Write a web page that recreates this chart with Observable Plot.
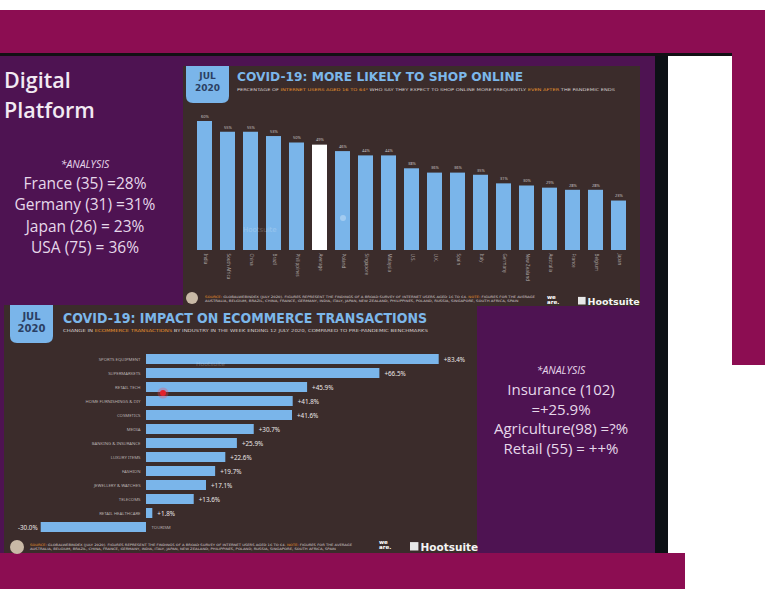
<!DOCTYPE html>
<html><head><meta charset="utf-8">
<script src="https://cdn.jsdelivr.net/npm/d3@7"></script>
<script src="https://cdn.jsdelivr.net/npm/@observablehq/plot@0.6"></script>
<style>
body{margin:0;background:#fff;}
#slide{position:relative;width:765px;height:589px;overflow:hidden;background:#fff;font-family:"Open Sans","Noto Sans",sans-serif;}
.blk{position:absolute;}
.plot{position:absolute;}
.plot svg{display:block;}
#overlay{position:absolute;left:0;top:0;pointer-events:none;}
</style></head><body><div id="slide"></div>
<script>
// ---------- data ----------
const countries = ["India","South Africa","China","Brazil","Philippines","Average","Poland","Singapore","Malaysia","U.S.","U.K.","Spain","Italy","Germany","New Zealand","Australia","France","Belgium","Japan"];
const shopOnline = [60,55,55,53,50,49,46,44,44,38,36,36,35,31,30,29,28,28,23];
const industries = ["SPORTS EQUIPMENT","SUPERMARKETS","RETAIL TECH","HOME FURNISHINGS & DIY","COSMETICS","MEDIA","BANKING & INSURANCE","LUXURY ITEMS","FASHION","JEWELLERY & WATCHES","TELECOMS","RETAIL HEALTHCARE","TOURISM"];
const ecomChange = [83.4,66.5,45.9,41.8,41.6,30.7,25.9,22.6,19.7,17.1,13.6,1.8,-30.0];
const leftAnalysis = ["France (35) =28%","Germany (31) =31%","Japan (26) = 23%","USA (75) = 36%"];
const rightAnalysis = ["Insurance (102)","=+25.9%","Agriculture(98) =?%","Retail (55) = ++%"];

const slide = document.getElementById("slide");
function block(l,t,w,h,c){const d=document.createElement("div");d.className="blk";Object.assign(d.style,{left:l+"px",top:t+"px",width:w+"px",height:h+"px",background:c});slide.appendChild(d);}
// slide frame
block(0,10,765,43,"#8c0d52");
block(732,10,33,355,"#8c0d52");
block(0,53,732,3,"#121014");
block(0,56,655,497,"#4e1352");
block(655,56,13,497,"#0c1015");
block(0,553,685,36,"#8c0d52");

const BLUE = "#7ab5ea", BG = "#3b2c2b";

// ---------- top chart ----------
const shopData = countries.map((c,i)=>({country:c, value:shopOnline[i]}));
const topChart = Plot.plot({
  width:457, height:240, marginLeft:3.2, marginRight:2.7, marginTop:55, marginBottom:56,
  x:{domain:countries, padding:0.335, label:null},
  y:{domain:[0,60], axis:null},
  style:{background:BG, fontFamily:"Noto Sans, sans-serif"},
  marks:[
    Plot.barY(shopData.filter(d=>d.country!=="Average"),{x:"country",y:"value",fill:BLUE}),
    Plot.barY(shopData.filter(d=>d.country==="Average"),{x:"country",y:"value",fill:"#ffffff"}),
    Plot.text(shopData,{x:"country",y:"value",text:d=>d.value+"%",dy:-5,fontSize:4,fill:"#c9c1c1"}),
    Plot.axisX({tickRotate:90,tickSize:0,tickPadding:3,fontSize:4.5,fill:"#aaa2a2",label:null})
  ]
});
const topDiv = document.createElement("div"); topDiv.className="plot";
Object.assign(topDiv.style,{left:"183px",top:"66px"}); topDiv.appendChild(topChart); slide.appendChild(topDiv);

// ---------- bottom chart ----------
const ecomData = industries.map((d,i)=>({industry:d, value:ecomChange[i]}));
const fmt = v => (v>0?"+":"") + v.toFixed(1) + "%";
const bottomChart = Plot.plot({
  width:473, height:248, marginLeft:36.7, marginRight:38.3, marginTop:44.1, marginBottom:17.4,
  x:{domain:[-30,83.4], axis:null},
  y:{domain:industries, axis:null, padding:0.32},
  style:{background:BG, fontFamily:"Noto Sans, sans-serif"},
  marks:[
    Plot.barX(ecomData,{x1:0,x2:"value",y:"industry",fill:BLUE}),
    Plot.text(ecomData.filter(d=>d.value>=0),{x:0,y:"industry",text:"industry",textAnchor:"end",dx:-6,fontSize:4.3,fill:"#b8b0b0"}),
    Plot.text(ecomData.filter(d=>d.value<0),{x:0,y:"industry",text:"industry",textAnchor:"start",dx:5,fontSize:4.3,fill:"#b8b0b0"}),
    Plot.text(ecomData.filter(d=>d.value>=0),{x:"value",y:"industry",text:d=>fmt(d.value),textAnchor:"start",dx:4.5,fontSize:6.3,fill:"#ece8e8"}),
    Plot.text(ecomData.filter(d=>d.value<0),{x:"value",y:"industry",text:d=>fmt(d.value),textAnchor:"end",dx:-3.5,fontSize:6.3,fill:"#ece8e8"})
  ]
});
const botDiv = document.createElement("div"); botDiv.className="plot";
Object.assign(botDiv.style,{left:"4px",top:"305px"}); botDiv.appendChild(bottomChart); slide.appendChild(botDiv);

// ---------- overlay decorations & text ----------
const svg = d3.select(slide).append("svg").attr("id","overlay").attr("width",765).attr("height",589);
function badge(x0,y0,x1,y1,r,jy,ty,fs){
  svg.append("path").attr("fill",BLUE)
    .attr("d",`M${x0},${y0}H${x1}V${y1-r}Q${x1},${y1} ${x1-r},${y1}H${x0+r}Q${x0},${y1} ${x0},${y1-r}Z`);
  const cx=(x0+x1)/2;
  [["JUL",jy],["2020",ty]].forEach(([t,y])=>svg.append("text").attr("x",cx).attr("y",y).attr("text-anchor","middle")
    .attr("font-family","DejaVu Sans").attr("font-weight","bold").attr("font-size",fs).attr("fill","#2b3f63").text(t));
}
badge(186,66,229,103,7,78.5,90.5,9);
badge(10,305,53,343,7,319.5,332,10);

function title(x,y,len,fs,t){
  svg.append("text").attr("x",x).attr("y",y).attr("font-family","DejaVu Sans").attr("font-weight","bold")
    .attr("font-size",fs).attr("fill","#7cb7ea").attr("textLength",len).attr("lengthAdjust","spacingAndGlyphs").text(t);
}
title(237,80.7,286,12.3,"COVID-19: MORE LIKELY TO SHOP ONLINE");
title(63,323.3,364,13.6,"COVID-19: IMPACT ON ECOMMERCE TRANSACTIONS");

function sub(x,y,len,fs,parts){
  const t=svg.append("text").attr("x",x).attr("y",y).attr("font-family","DejaVu Sans").attr("font-size",fs)
    .attr("textLength",len).attr("lengthAdjust","spacingAndGlyphs");
  parts.forEach(([s,c])=>t.append("tspan").attr("fill",c).text(s));
}
const W="#d8d0d0", O="#e8952e";
sub(237,90.5,378,3.8,[["PERCENTAGE OF ",W],["INTERNET USERS AGED 16 TO 64*",O],[" WHO SAY THEY EXPECT TO SHOP ONLINE MORE FREQUENTLY ",W],["EVEN AFTER",O],[" THE PANDEMIC ENDS",W]]);
sub(63,331.5,365,4.2,[["CHANGE IN ",W],["ECOMMERCE TRANSACTIONS",O],[" BY INDUSTRY IN THE WEEK ENDING 12 JULY 2020, COMPARED TO PRE-PANDEMIC BENCHMARKS",W]]);

// footers
function footer(cx,cy,r,tx,ty,len,wx,wy,hx,hy,hfs){
  svg.append("circle").attr("cx",cx).attr("cy",cy).attr("r",r).attr("fill","#c9b9a6");
  sub(tx,ty,len,3.2,[["SOURCE: ",O],["GLOBALWEBINDEX (JULY 2020). FIGURES REPRESENT THE FINDINGS OF A BROAD SURVEY OF INTERNET USERS AGED 16 TO 64. ",W],["NOTE: ",O],["FIGURES FOR THE AVERAGE",W]]);
  sub(tx,ty+4.5,len*0.95,3.2,[["AUSTRALIA, BELGIUM, BRAZIL, CHINA, FRANCE, GERMANY, INDIA, ITALY, JAPAN, NEW ZEALAND, PHILIPPINES, POLAND, RUSSIA, SINGAPORE, SOUTH AFRICA, SPAIN",W]]);
  svg.append("text").attr("x",wx).attr("y",wy).attr("font-family","DejaVu Sans").attr("font-weight","bold").attr("font-size",5.5).attr("fill","#fff").text("we");
  svg.append("text").attr("x",wx).attr("y",wy+5).attr("font-family","DejaVu Sans").attr("font-weight","bold").attr("font-size",5.5).attr("fill","#fff").text("are.");
  svg.append("rect").attr("x",hx).attr("y",hy-hfs*0.8).attr("width",hfs*0.8).attr("height",hfs*0.8).attr("fill","#e8e8e8");
  svg.append("text").attr("x",hx+hfs).attr("y",hy).attr("font-family","DejaVu Sans").attr("font-weight","bold").attr("font-size",hfs).attr("fill","#f4f4f4").text("Hootsuite");
}
footer(192,298,6,205,297.5,330,547,299,578,304.5,9.5);
footer(17,547,7,30,545.5,322,379,544,410,550.5,10.5);

// faint watermarks
function wm(x,y,fs){svg.append("text").attr("x",x).attr("y",y).attr("font-family","DejaVu Sans").attr("font-size",fs).attr("fill","#ffffff").attr("opacity",0.22).text("Hootsuite");}
wm(243,232,7); wm(196,366,6);
svg.append("circle").attr("cx",343).attr("cy",218).attr("r",3).attr("fill","#fff").attr("opacity",0.3);

// red cursor dot
svg.append("circle").attr("cx",163).attr("cy",393).attr("r",5.5).attr("fill","#ff4050").attr("opacity",0.3);
svg.append("circle").attr("cx",163).attr("cy",393).attr("r",3).attr("fill","#e3212c");

// slide text
const TXT="#e6d8ea";
function st(x,y,fs,t,opts={}){
  svg.append("text").attr("x",x).attr("y",y).attr("font-family","Open Sans").attr("font-size",fs)
    .attr("font-weight",opts.w||400).attr("font-style",opts.i?"italic":"normal")
    .attr("text-anchor",opts.a||"start").attr("fill",opts.c||TXT).text(t);
}
st(4,87.5,21.5,"Digital",{w:600,c:"#f2eaf2"});
st(4,117.5,21.5,"Platform",{w:600,c:"#f2eaf2"});
st(85,167.5,10.5,"*ANALYSIS",{i:true,a:"middle"});
leftAnalysis.forEach((t,i)=>st(85,189+i*21.4,15.5,t,{a:"middle"}));
st(561,374,10.5,"*ANALYSIS",{i:true,a:"middle"});
rightAnalysis.forEach((t,i)=>st(561,395+i*19.5,15,t,{a:"middle"}));
</script></body></html>
